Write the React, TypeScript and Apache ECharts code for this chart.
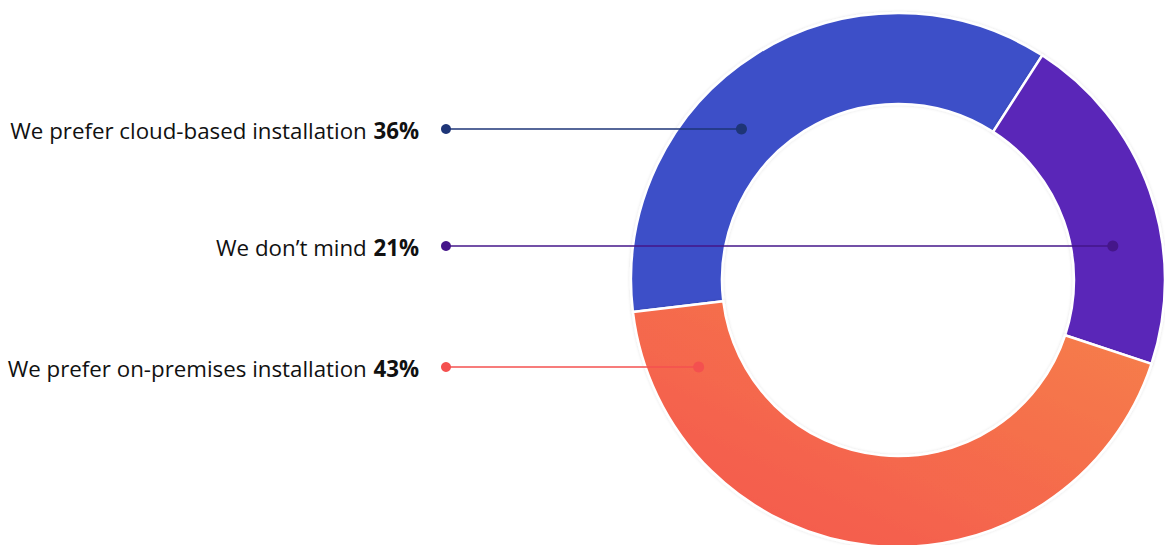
import React, { useEffect, useRef } from "react";
import * as echarts from "echarts";

const categories = [
  "We prefer cloud-based installation",
  "We don\u2019t mind",
  "We prefer on-premises installation",
];
const values = [36, 21, 43];

const sliceColors: any[] = [
  "#3D4FC8",
  "#5A25B8",
  new echarts.graphic.LinearGradient(0, 1, 1, 0, [
    { offset: 0, color: "#F4544F" },
    { offset: 1, color: "#F6814A" },
  ]),
];
const lineColors = ["#1E3577", "#45168A", "#F4504F"];
const labelY = [129, 246, 367];

const W = 1165;
const H = 545;
const CX = 898;
const CY = 280;
const R_IN = 176;
const R_OUT = 267;
const START = 186.9;

export default function App() {
  const ref = useRef<HTMLDivElement>(null);
  useEffect(() => {
    document.body.style.margin = "0";
    const chart = echarts.init(ref.current!, null, { renderer: "svg" });
    const total = values.reduce((a, b) => a + b, 0);
    const rMid = (R_IN + R_OUT) / 2 - 4;
    const graphics: any[] = [];
    let angle = START;
    values.forEach((v, i) => {
      const span = (v / total) * 360;
      const mid = angle - span / 2;
      angle -= span;
      const y = labelY[i];
      const dy = y - CY;
      const dxAbs = Math.sqrt(Math.max(rMid * rMid - dy * dy, 0));
      const side = Math.cos((mid * Math.PI) / 180) >= 0 ? 1 : -1;
      const dotX = CX + side * dxAbs;
      graphics.push({
        type: "text",
        z: 10,
        style: {
          x: 419,
          y: y + 1,
          text: `{n|${categories[i]}}  {b|${v}%}`,
          align: "right",
          verticalAlign: "middle",
          rich: {
            n: { fontFamily: "Open Sans", fontSize: 22.3, fill: "#111", fontWeight: 400 },
            b: { fontFamily: "Open Sans", fontSize: 22.3, fill: "#111", fontWeight: 700 },
          },
        },
      });
      graphics.push({
        type: "line",
        z: 10,
        shape: { x1: 446, y1: y, x2: dotX, y2: y },
        style: { stroke: lineColors[i], lineWidth: 1.5 },
      });
      graphics.push({
        type: "circle",
        z: 10,
        shape: { cx: 446, cy: y, r: 5 },
        style: { fill: lineColors[i] },
      });
      graphics.push({
        type: "circle",
        z: 10,
        shape: { cx: dotX, cy: y, r: 5.5 },
        style: { fill: lineColors[i] },
      });
    });

    chart.setOption({
      animation: false,
      backgroundColor: "#ffffff",
      series: [
        {
          type: "pie",
          center: [CX, CY],
          radius: [R_IN, R_OUT],
          startAngle: START,
          clockwise: true,
          label: { show: false },
          labelLine: { show: false },
          emphasis: { disabled: true },
          itemStyle: {
            borderColor: "#ffffff",
            borderWidth: 2.5,
            shadowColor: "rgba(0,0,0,0.12)",
            shadowBlur: 3,
          },
          data: categories.map((c, i) => ({
            name: c,
            value: values[i],
            itemStyle: { color: sliceColors[i] },
          })),
        },
      ],
      graphic: graphics,
    });
    return () => chart.dispose();
  }, []);
  return <div ref={ref} style={{ width: W, height: H }} />;
}
